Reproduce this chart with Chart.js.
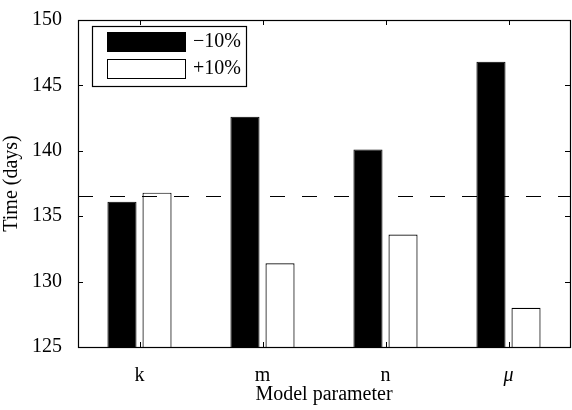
<!DOCTYPE html>
<html>
<head>
<meta charset="utf-8">
<script src="https://cdn.jsdelivr.net/npm/chart.js@4/dist/chart.umd.min.js"></script>
<style>
  html, body { margin: 0; padding: 0; background: #fff; }
  #wrap { width: 572px; height: 410px; }
</style>
</head>
<body>
<div id="wrap"><canvas id="chart" width="572" height="410"></canvas></div>
<script>
// data
const params = ['k', 'm', 'n', '\u03BC'];
const minus10 = [136.1, 142.6, 140.1, 146.8];
const plus10 = [136.8, 131.4, 133.6, 128.0];
const baseline = 136.55;
const yTicks = [125, 130, 135, 140, 145, 150];

const serif = "'Liberation Serif', 'Times New Roman', serif";

// frame, inward ticks, dashed reference line and legend box
const framePlugin = {
  id: 'frame',
  afterDatasetsDraw(chart) {
    const { ctx, chartArea: a, scales } = chart;
    ctx.save();

    // dashed reference line
    const yb = Math.round(scales.y.getPixelForValue(baseline)) + 0.5;
    ctx.strokeStyle = '#000';
    ctx.lineWidth = 1;
    ctx.setLineDash([15, 17]);
    ctx.beginPath();
    ctx.moveTo(a.left, yb);
    ctx.lineTo(a.right, yb);
    ctx.stroke();
    ctx.setLineDash([]);

    // box
    ctx.lineWidth = 1.2;
    ctx.strokeRect(a.left + 0.5, a.top + 0.5, a.right - a.left, a.bottom - a.top);

    // ticks pointing in
    ctx.lineWidth = 1;
    ctx.beginPath();
    yTicks.forEach(v => {
      const y = Math.round(scales.y.getPixelForValue(v)) + 0.5;
      ctx.moveTo(a.left, y); ctx.lineTo(a.left + 5, y);
      ctx.moveTo(a.right, y); ctx.lineTo(a.right - 5, y);
    });
    params.forEach((p, i) => {
      const x = Math.round(scales.x.getPixelForValue(i)) + 0.5;
      ctx.moveTo(x, a.bottom); ctx.lineTo(x, a.bottom - 5);
      ctx.moveTo(x, a.top); ctx.lineTo(x, a.top + 5);
    });
    ctx.stroke();

    // legend
    ctx.fillStyle = '#fff';
    ctx.fillRect(92, 26, 154, 60);
    ctx.strokeStyle = '#000';
    ctx.lineWidth = 1.2;
    ctx.strokeRect(92.5, 26.5, 154, 60);
    ctx.fillStyle = '#000';
    ctx.fillRect(107, 32, 79, 20);
    ctx.lineWidth = 1;
    ctx.strokeRect(107.5, 59.5, 78, 19);
    ctx.font = '20px ' + serif;
    ctx.textBaseline = 'middle';
    ctx.textAlign = 'left';
    ctx.fillText('\u221210%', 193, 42);
    ctx.fillText('+10%', 193, 69);

    ctx.restore();
  }
};

document.addEventListener('DOMContentLoaded', function() {
  const ctx = document.getElementById('chart');
  new Chart(ctx, {
    type: 'bar',
    data: {
      labels: params,
      datasets: [
        {
          label: '\u221210%',
          data: minus10,
          backgroundColor: '#000',
          borderColor: '#000',
          borderWidth: 1
        },
        {
          label: '+10%',
          data: plus10,
          backgroundColor: '#fff',
          borderColor: '#000',
          borderWidth: 1.2
        }
      ]
    },
    options: {
      responsive: false,
      animation: false,
      devicePixelRatio: 1,
      categoryPercentage: 0.57,
      barPercentage: 0.83,
      layout: { padding: { top: 12, right: 2, left: 0, bottom: 0 } },
      plugins: {
        legend: { display: false },
        tooltip: { enabled: false }
      },
      scales: {
        x: {
          grid: { display: false },
          border: { display: false },
          afterFit: s => { s.height = 63; },
          ticks: {
            color: '#000',
            padding: 9,
            font: c => ({ family: serif, size: 20, style: c.index === 3 ? 'italic' : 'normal' })
          },
          title: {
            display: true,
            text: 'Model parameter',
            color: '#000',
            font: { family: serif, size: 20 },
            padding: { top: 0, bottom: 3 }
          }
        },
        y: {
          min: 125,
          max: 150,
          grid: { display: false },
          border: { display: false },
          afterFit: s => { s.width = 78; },
          ticks: {
            stepSize: 5,
            color: '#000',
            padding: 8,
            font: { family: serif, size: 20 }
          },
          title: {
            display: true,
            text: 'Time (days)',
            color: '#000',
            font: { family: serif, size: 20 },
            padding: { top: 0, bottom: 0 }
          }
        }
      }
    },
    plugins: [framePlugin]
  });
});
</script>
</body>
</html>
